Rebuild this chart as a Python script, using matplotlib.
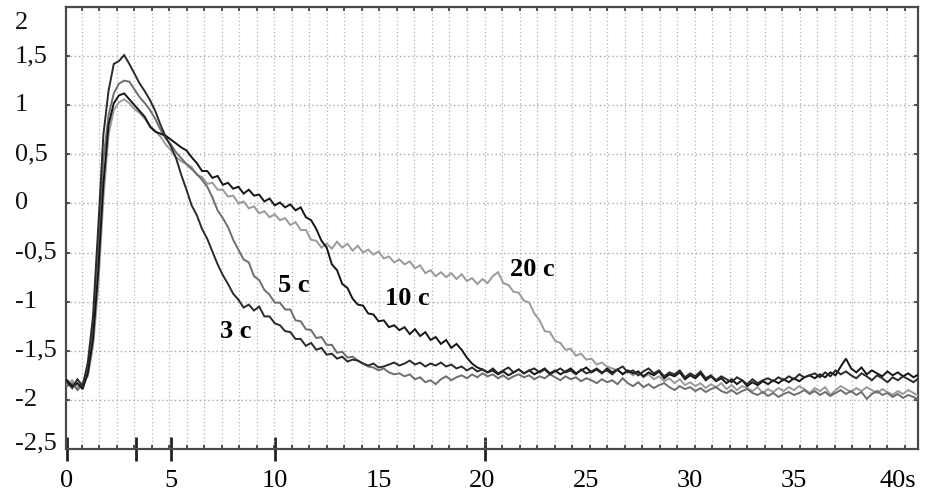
import numpy as np
import matplotlib
matplotlib.use("Agg")
import matplotlib.pyplot as plt
from matplotlib.ticker import FixedLocator, MultipleLocator, NullFormatter
from matplotlib.transforms import blended_transform_factory, ScaledTranslation

# ---------------- data ----------------
time_s = np.round(np.arange(0, 41.01, 0.25), 2)   # sampling grid, 0.25 s

c3 = [
    -1.82, -1.88, -1.79, -1.86, -1.62, -1.15, -0.25, 0.70,
    1.15, 1.42, 1.45, 1.51, 1.42, 1.32, 1.22, 1.14,
    1.05, 0.94, 0.80, 0.68, 0.58, 0.46, 0.29, 0.14,
    -0.02, -0.12, -0.26, -0.36, -0.49, -0.62, -0.73, -0.82,
    -0.92, -0.98, -1.06, -1.03, -1.09, -1.05, -1.15, -1.15,
    -1.22, -1.24, -1.30, -1.31, -1.38, -1.38, -1.45, -1.42,
    -1.49, -1.47, -1.54, -1.53, -1.58, -1.56, -1.61, -1.59,
    -1.60, -1.63, -1.65, -1.63, -1.67, -1.66, -1.64, -1.62,
    -1.65, -1.63, -1.60, -1.64, -1.62, -1.66, -1.63, -1.65,
    -1.62, -1.66, -1.64, -1.68, -1.66, -1.70, -1.67, -1.71,
    -1.69, -1.72, -1.68, -1.73, -1.70, -1.67, -1.72, -1.69,
    -1.73, -1.70, -1.68, -1.72, -1.69, -1.74, -1.71, -1.68,
    -1.72, -1.70, -1.74, -1.69, -1.73, -1.71, -1.68, -1.72,
    -1.70, -1.74, -1.69, -1.66, -1.72, -1.70, -1.75, -1.71,
    -1.68, -1.73, -1.70, -1.76, -1.72, -1.74, -1.70, -1.77,
    -1.73, -1.76, -1.71, -1.78, -1.75, -1.80, -1.76, -1.79,
    -1.82, -1.77, -1.80, -1.84, -1.79, -1.83, -1.80, -1.78,
    -1.81, -1.77, -1.80, -1.76, -1.79, -1.74, -1.77, -1.75,
    -1.73, -1.77, -1.72, -1.76, -1.70, -1.74, -1.71, -1.75,
    -1.78, -1.73, -1.76, -1.80, -1.75, -1.78, -1.82, -1.77,
    -1.80, -1.76, -1.79, -1.82, -1.78,
]

c5 = [
    -1.86, -1.83, -1.90, -1.84, -1.69, -1.25, -0.45, 0.45,
    0.90, 1.12, 1.22, 1.25, 1.24, 1.16, 1.08, 1.02,
    0.95, 0.86, 0.75, 0.66, 0.60, 0.52, 0.46, 0.40,
    0.35, 0.30, 0.24, 0.17, 0.06, -0.07, -0.15, -0.24,
    -0.37, -0.47, -0.57, -0.60, -0.74, -0.78, -0.88, -0.93,
    -1.01, -1.01, -1.08, -1.08, -1.19, -1.20, -1.28, -1.29,
    -1.37, -1.36, -1.44, -1.44, -1.52, -1.51, -1.57, -1.56,
    -1.60, -1.63, -1.66, -1.67, -1.70, -1.68, -1.72, -1.74,
    -1.73, -1.76, -1.74, -1.79, -1.77, -1.82, -1.80, -1.84,
    -1.79, -1.76, -1.80, -1.77, -1.75, -1.78, -1.74, -1.77,
    -1.73, -1.76, -1.74, -1.78, -1.75, -1.79, -1.76, -1.74,
    -1.77, -1.75, -1.79, -1.76, -1.78, -1.74, -1.77, -1.80,
    -1.76, -1.79, -1.77, -1.81, -1.78, -1.80, -1.83, -1.79,
    -1.82, -1.80, -1.84, -1.78, -1.83, -1.86, -1.82, -1.87,
    -1.84, -1.88, -1.85, -1.83, -1.87, -1.90, -1.86, -1.89,
    -1.87, -1.91, -1.88, -1.92, -1.89, -1.87, -1.91, -1.93,
    -1.90, -1.94, -1.91, -1.89, -1.93, -1.95, -1.92, -1.96,
    -1.93, -1.97, -1.94, -1.92, -1.95, -1.93, -1.90, -1.94,
    -1.91, -1.95, -1.92, -1.96, -1.93, -1.90, -1.94, -1.91,
    -1.95, -1.92, -1.99, -1.94, -1.91, -1.95, -1.93, -1.97,
    -1.94, -1.98, -1.95, -1.97, -2.00,
]

c10 = [
    -1.80, -1.86, -1.83, -1.89, -1.73, -1.38, -0.70, 0.20,
    0.80, 1.02, 1.10, 1.12, 1.06, 1.00, 0.94, 0.88,
    0.78, 0.73, 0.71, 0.69, 0.65, 0.61, 0.57, 0.54,
    0.47, 0.41, 0.33, 0.33, 0.26, 0.28, 0.19, 0.21,
    0.15, 0.17, 0.10, 0.14, 0.08, 0.09, 0.02, 0.05,
    -0.02, 0.01, -0.04, -0.01, -0.07, -0.04, -0.14, -0.17,
    -0.26, -0.38, -0.45, -0.62, -0.68, -0.82, -0.86, -0.97,
    -1.03, -1.04, -1.12, -1.13, -1.20, -1.19, -1.26, -1.24,
    -1.29, -1.26, -1.33, -1.28, -1.35, -1.31, -1.39, -1.36,
    -1.43, -1.39, -1.47, -1.43, -1.49, -1.57, -1.63, -1.67,
    -1.69, -1.72, -1.70, -1.74, -1.71, -1.75, -1.72, -1.69,
    -1.73, -1.70, -1.74, -1.71, -1.68, -1.73, -1.70, -1.74,
    -1.71, -1.68, -1.73, -1.70, -1.67, -1.72, -1.69, -1.73,
    -1.68, -1.72, -1.69, -1.74, -1.70, -1.73, -1.71, -1.76,
    -1.72, -1.75, -1.71, -1.78, -1.74, -1.76, -1.72, -1.79,
    -1.75, -1.78, -1.73, -1.80, -1.76, -1.81, -1.78, -1.83,
    -1.79, -1.84, -1.80, -1.86, -1.82, -1.85, -1.81, -1.84,
    -1.80, -1.83, -1.79, -1.82, -1.78, -1.81, -1.77, -1.75,
    -1.78, -1.74, -1.77, -1.72, -1.75, -1.66, -1.58, -1.68,
    -1.72, -1.67, -1.74, -1.70, -1.73, -1.76, -1.71, -1.75,
    -1.72, -1.76, -1.73, -1.77, -1.74,
]

c20 = [
    -1.84, -1.80, -1.87, -1.82, -1.76, -1.46, -0.86, 0.05,
    0.70, 0.95, 1.03, 1.06, 1.02, 0.96, 0.92, 0.86,
    0.79, 0.74, 0.68, 0.60, 0.54, 0.47, 0.43, 0.40,
    0.37, 0.29, 0.27, 0.20, 0.21, 0.14, 0.14, 0.07,
    0.08, 0.00, 0.02, -0.05, -0.03, -0.10, -0.08, -0.14,
    -0.11, -0.17, -0.15, -0.22, -0.19, -0.27, -0.27, -0.37,
    -0.38, -0.45, -0.41, -0.46, -0.39, -0.45, -0.41, -0.48,
    -0.43, -0.50, -0.47, -0.52, -0.49, -0.56, -0.54, -0.60,
    -0.57, -0.62, -0.59, -0.66, -0.63, -0.71, -0.68, -0.74,
    -0.70, -0.75, -0.71, -0.77, -0.72, -0.79, -0.76, -0.82,
    -0.77, -0.81, -0.74, -0.70, -0.81, -0.83, -0.90, -0.91,
    -0.99, -1.01, -1.12, -1.19, -1.30, -1.31, -1.40, -1.42,
    -1.49, -1.48, -1.55, -1.53, -1.59, -1.58, -1.64, -1.62,
    -1.66, -1.68, -1.70, -1.73, -1.71, -1.75, -1.72, -1.77,
    -1.74, -1.79, -1.76, -1.81, -1.78, -1.83, -1.79, -1.85,
    -1.82, -1.86, -1.83, -1.88, -1.84, -1.87, -1.83, -1.89,
    -1.85, -1.90, -1.86, -1.88, -1.91, -1.87, -1.93, -1.89,
    -1.92, -1.88, -1.91, -1.87, -1.90, -1.86, -1.89, -1.93,
    -1.88, -1.91, -1.87, -1.95, -1.90, -1.86, -1.89, -1.92,
    -1.88, -1.91, -1.87, -1.90, -1.93, -1.89, -1.92, -1.95,
    -1.91, -1.94, -1.90, -1.93, -1.96,
]

series_names = ["3 c", "5 c", "10 c", "20 c"]
label_t = [8.14, 10.9, 16.4, 22.4]
label_v = [-1.30, -0.84, -0.97, -0.67]

x_tick_vals = [0, 5, 10, 15, 20, 25, 30, 35, 40]
x_tick_labels = ["0", "5", "10", "15", "20", "25", "30", "35", "40s"]
y_tick_vals = [2, 1.5, 1, 0.5, 0, -0.5, -1, -1.5, -2, -2.5]
y_tick_labels = ["2", "1,5", "1", "0,5", "0", "-0,5", "-1", "-1,5", "-2", "-2,5"]
stim_marks = [0, 3.3, 5, 10, 20.1]

# ---------------- figure ----------------
W, H, DPI = 932, 497, 100
fig = plt.figure(figsize=(W / DPI, H / DPI), dpi=DPI)
fig.patch.set_facecolor("white")
ax = fig.add_axes([66 / W, 1 - 449 / H, (918 - 66) / W, (449 - 7) / H])
ax.set_xlim(-0.05, 40.97)
ax.set_ylim(-2.5, 2.0)

serif = "Liberation Serif"
FS = 19

# grid
vgrid = np.arange(0.71, 41.0, 0.843)
ax.xaxis.set_minor_locator(FixedLocator(vgrid))
ax.xaxis.set_minor_formatter(NullFormatter())
ax.xaxis.set_major_locator(FixedLocator(x_tick_vals))
ax.set_xticklabels(x_tick_labels, fontsize=FS, family=serif)
ax.tick_params(axis="x", which="major", length=0, pad=15)
ax.tick_params(axis="x", which="minor", direction="in", length=3, width=1.2,
               top=True, bottom=True, color="#333333")
ax.grid(which="minor", axis="x", linestyle=(0, (1, 2)), color="#b5b5b5", lw=0.9)

ax.yaxis.set_major_locator(MultipleLocator(0.5))
ax.yaxis.set_major_formatter(NullFormatter())
ax.tick_params(axis="y", which="major", direction="in", length=3, width=1.2,
               left=True, right=True, color="#333333")
ax.grid(which="major", axis="y", linestyle=(0, (1, 2)), color="#a8a8a8", lw=1.0)
ax.grid(which="major", axis="x", visible=False)

for sp in ax.spines.values():
    sp.set_color("#4a4a4a")
    sp.set_linewidth(1.6)

# y labels (left aligned, as in the reference)
ytrans = blended_transform_factory(fig.transFigure, ax.transData)
y_offsets_px = {2: -16, -2.5: 6}
for v, s in zip(y_tick_vals, y_tick_labels):
    tr = ytrans + ScaledTranslation(0, y_offsets_px.get(v, 0) / DPI, fig.dpi_scale_trans)
    ax.text(15 / W, v, s, transform=tr, ha="left", va="center",
            fontsize=FS, family=serif, color="#111111")

# stimulus marks on bottom axis
sec = ax.secondary_xaxis("bottom")
sec.set_xticks(stim_marks)
sec.set_xticklabels([""] * len(stim_marks))
sec.tick_params(direction="inout", length=17, width=2.0, color="#222222")
sec.spines["bottom"].set_visible(False)

# curves
styles = [
    (c20, "#9a9a9a", 1.4),
    (c5, "#6e6e6e", 1.4),
    (c10, "#151515", 1.4),
    (c3, "#2a2a2a", 1.4),
]
for vals, col, lw in styles:
    ax.plot(time_s, vals, color=col, lw=lw, solid_joinstyle="miter", zorder=3)

for name, tx, vy in zip(series_names, label_t, label_v):
    ax.text(tx, vy, name, ha="center", va="center", fontsize=FS,
            fontweight="bold", family=serif, color="black", zorder=4)

fig.savefig("out.png", dpi=DPI, facecolor="white")
